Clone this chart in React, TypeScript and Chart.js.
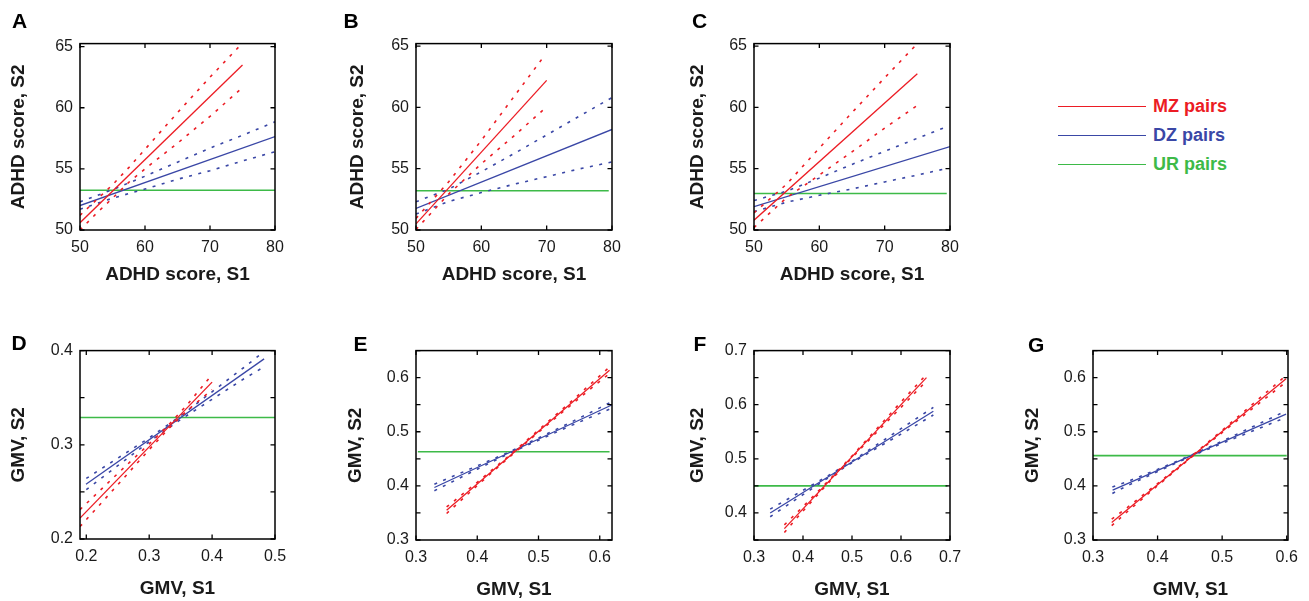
import React, { useEffect, useRef } from 'react';
import { Chart, registerables } from 'chart.js';
Chart.register(...registerables);

// ================= DATA =================
// Panel A (ADHD score)
const A_MZ_X = [50, 75];
const A_MZ_FIT = [50.6, 63.5];
const A_MZ_CI_X = [50, 52.5, 55, 57.5, 60, 65, 70, 75];
const A_MZ_UP = [51.2, 52.45, 53.7, 55.1, 56.6, 59.6, 62.5, 65.3];
const A_MZ_LO = [50.0, 51.35, 52.6, 53.9, 55.0, 57.1, 59.3, 61.65];
const A_DZ_X = [50, 80];
const A_DZ_FIT = [52.0, 57.65];
const A_DZ_CI_X = [50, 55, 60, 65, 70, 75, 80];
const A_DZ_UP = [52.3, 53.3, 54.4, 55.55, 56.7, 57.75, 58.85];
const A_DZ_LO = [51.7, 52.6, 53.35, 54.15, 54.85, 55.65, 56.4];
const A_UR_X = [50, 80];
const A_UR = [53.25, 53.25];

// Panel B
const B_MZ_X = [50, 70];
const B_MZ_FIT = [50.5, 62.2];
const B_MZ_CI_X = [50, 55, 60, 65, 69.5];
const B_MZ_UP = [50.95, 53.93, 57.3, 60.88, 64.1];
const B_MZ_LO = [50.05, 52.93, 55.4, 57.68, 59.8];
const B_DZ_X = [50, 80];
const B_DZ_FIT = [51.76, 58.2];
const B_DZ_CI_X = [50, 55, 60, 65, 70, 75, 80];
const B_DZ_UP = [52.3, 53.33, 54.75, 56.23, 57.75, 59.28, 60.8];
const B_DZ_LO = [51.3, 52.33, 53.05, 53.73, 54.35, 54.98, 55.55];
const B_UR_X = [50, 79.5];
const B_UR = [53.2, 53.2];

// Panel C
const C_MZ_X = [50, 75];
const C_MZ_FIT = [50.8, 62.74];
const C_MZ_CI_X = [50, 55, 60, 65, 70, 75];
const C_MZ_UP = [51.4, 53.74, 56.68, 59.57, 62.41, 65.2];
const C_MZ_LO = [50.2, 52.64, 54.48, 56.37, 58.31, 60.16];
const C_DZ_X = [50, 80];
const C_DZ_FIT = [51.9, 56.8];
const C_DZ_CI_X = [50, 55, 60, 65, 70, 75, 79.5];
const C_DZ_UP = [52.4, 53.17, 54.23, 55.35, 56.42, 57.48, 58.42];
const C_DZ_LO = [51.5, 52.27, 52.83, 53.35, 53.92, 54.48, 55.02];
const C_UR_X = [50, 79.5];
const C_UR = [52.98, 52.98];

// Panel D (GMV)
const D_MZ_X = [0.19, 0.4];
const D_MZ_FIT = [0.2222, 0.3665];
const D_MZ_CI_X = [0.19, 0.25, 0.3, 0.33, 0.36, 0.4];
const D_MZ_UP = [0.2312, 0.2695, 0.3009, 0.3205, 0.3422, 0.3745];
const D_MZ_LO = [0.2132, 0.2575, 0.2949, 0.3165, 0.3362, 0.3585];
const D_DZ_X = [0.1995, 0.4827];
const D_DZ_FIT = [0.2581, 0.3912];
const D_DZ_CI_X = [0.2, 0.25, 0.3, 0.35, 0.4, 0.45, 0.4775];
const D_DZ_UP = [0.2643, 0.2858, 0.3073, 0.3308, 0.3563, 0.3818, 0.3963];
const D_DZ_LO = [0.2523, 0.2778, 0.3033, 0.3268, 0.3483, 0.3698, 0.3807];
const D_UR_X = [0.19, 0.5];
const D_UR = [0.329, 0.329];

// Panel E
const E_MZ_X = [0.35, 0.616];
const E_MZ_FIT = [0.355, 0.6137];
const E_MZ_CI_X = [0.35, 0.4, 0.45, 0.5, 0.55, 0.6, 0.616];
const E_MZ_UP = [0.361, 0.4067, 0.4538, 0.503, 0.5526, 0.6033, 0.6197];
const E_MZ_LO = [0.349, 0.4007, 0.4508, 0.499, 0.5466, 0.5933, 0.6077];
const E_DZ_X = [0.33, 0.6225];
const E_DZ_FIT = [0.397, 0.551];
const E_DZ_CI_X = [0.33, 0.4, 0.45, 0.5, 0.55, 0.6, 0.62];
const E_DZ_UP = [0.403, 0.4369, 0.4617, 0.4885, 0.5159, 0.5442, 0.5557];
const E_DZ_LO = [0.391, 0.4309, 0.4587, 0.4845, 0.5099, 0.5342, 0.5437];
const E_UR_X = [0.303, 0.616];
const E_UR = [0.463, 0.463];

// Panel F
const F_MZ_X = [0.362, 0.652];
const F_MZ_FIT = [0.371, 0.65];
const F_MZ_CI_X = [0.362, 0.4, 0.45, 0.5, 0.55, 0.6, 0.652];
const F_MZ_UP = [0.378, 0.4116, 0.4577, 0.5053, 0.5549, 0.605, 0.656];
const F_MZ_LO = [0.364, 0.4036, 0.4537, 0.5023, 0.5489, 0.595, 0.644];
const F_DZ_X = [0.333, 0.666];
const F_DZ_FIT = [0.4, 0.588];
const F_DZ_CI_X = [0.333, 0.4, 0.45, 0.5, 0.55, 0.6, 0.666];
const F_DZ_UP = [0.407, 0.4418, 0.4681, 0.4958, 0.5255, 0.5557, 0.595];
const F_DZ_LO = [0.393, 0.4338, 0.4641, 0.4928, 0.5195, 0.5457, 0.581];
const F_UR_X = [0.3, 0.695];
const F_UR = [0.45, 0.45];

// Panel G
const G_MZ_X = [0.329, 0.599];
const G_MZ_FIT = [0.3325, 0.598];
const G_MZ_CI_X = [0.329, 0.35, 0.4, 0.45, 0.5, 0.55, 0.599];
const G_MZ_UP = [0.3385, 0.3571, 0.4043, 0.4525, 0.5026, 0.5538, 0.604];
const G_MZ_LO = [0.3265, 0.3491, 0.4003, 0.4505, 0.4986, 0.5458, 0.592];
const G_DZ_X = [0.3304, 0.599];
const G_DZ_FIT = [0.3922, 0.5325];
const G_DZ_CI_X = [0.33, 0.35, 0.4, 0.45, 0.5, 0.55, 0.599];
const G_DZ_UP = [0.398, 0.4064, 0.4305, 0.4556, 0.4827, 0.5108, 0.5385];
const G_DZ_LO = [0.386, 0.3984, 0.4265, 0.4536, 0.4787, 0.5028, 0.5265];
const G_UR_X = [0.3, 0.6];
const G_UR = [0.456, 0.456];

const LEGEND_LABELS = ['MZ pairs', 'DZ pairs', 'UR pairs'];
const PANEL_LETTERS = ['A', 'B', 'C', 'D', 'E', 'F', 'G'];
const TITLE_ADHD_X = 'ADHD score, S1';
const TITLE_ADHD_Y = 'ADHD score, S2';
const TITLE_GMV_X = 'GMV, S1';
const TITLE_GMV_Y = 'GMV, S2';

// ================= STYLE / LAYOUT =================
const RED = '#EC1C24';
const BLUE = '#3A47A6';
const GREEN = '#3DBA48';
const FONT = "'Liberation Sans', Arial, Helvetica, sans-serif";
const TEXT = '#1a1a1a';
const Y_AXIS_W = 75;
const X_AXIS_H = 62;
const PAD_T = 15;
const PAD_R = 20;
const TICK_LEN = 4.5;

type Panel = {
  box: { l: number; t: number; r: number; b: number };
  xr: [number, number]; xs: number;
  yr: [number, number]; ys: number;
  gmv: boolean;
  yGap: number; xOff: number;
  sets: any[];
};

const pts = (xs: number[], ys: number[]) => xs.map((x, i) => ({ x, y: ys[i] }));

function series(
  mzX: number[], mzFit: number[], mzCiX: number[], mzUp: number[], mzLo: number[],
  dzX: number[], dzFit: number[], dzCiX: number[], dzUp: number[], dzLo: number[],
  urX: number[], ur: number[]
) {
  const solid = (data: any, c: string) => ({ data, borderColor: c, borderWidth: 1.3, showLine: true, pointRadius: 0, fill: false });
  const dot = (data: any, c: string) => ({ data, borderColor: c, borderWidth: 1.6, borderDash: [3, 6.5], showLine: true, pointRadius: 0, fill: false });
  return [
    dot(pts(mzCiX, mzUp), RED), dot(pts(mzCiX, mzLo), RED), solid(pts(mzX, mzFit), RED),
    dot(pts(dzCiX, dzUp), BLUE), dot(pts(dzCiX, dzLo), BLUE), solid(pts(dzX, dzFit), BLUE),
    { ...solid(pts(urX, ur), GREEN), borderWidth: 1.6 },
  ];
}

const PANELS: Panel[] = [
  { box: { l: 80, t: 42, r: 275, b: 230 }, xr: [50, 80], xs: 10, yr: [50, 65.25], ys: 5, gmv: false, yGap: 61, xOff: 45,
    sets: series(A_MZ_X, A_MZ_FIT, A_MZ_CI_X, A_MZ_UP, A_MZ_LO, A_DZ_X, A_DZ_FIT, A_DZ_CI_X, A_DZ_UP, A_DZ_LO, A_UR_X, A_UR) },
  { box: { l: 416, t: 42, r: 612, b: 230 }, xr: [50, 80], xs: 10, yr: [50, 65.2], ys: 5, gmv: false, yGap: 58, xOff: 45,
    sets: series(B_MZ_X, B_MZ_FIT, B_MZ_CI_X, B_MZ_UP, B_MZ_LO, B_DZ_X, B_DZ_FIT, B_DZ_CI_X, B_DZ_UP, B_DZ_LO, B_UR_X, B_UR) },
  { box: { l: 754, t: 42, r: 950, b: 230 }, xr: [50, 80], xs: 10, yr: [50, 65.2], ys: 5, gmv: false, yGap: 56, xOff: 45,
    sets: series(C_MZ_X, C_MZ_FIT, C_MZ_CI_X, C_MZ_UP, C_MZ_LO, C_DZ_X, C_DZ_FIT, C_DZ_CI_X, C_DZ_UP, C_DZ_LO, C_UR_X, C_UR) },
  { box: { l: 80, t: 349, r: 275, b: 539 }, xr: [0.19, 0.5], xs: 0.1, yr: [0.2, 0.4], ys: 0.05, gmv: true, yGap: 61, xOff: 49.5,
    sets: series(D_MZ_X, D_MZ_FIT, D_MZ_CI_X, D_MZ_UP, D_MZ_LO, D_DZ_X, D_DZ_FIT, D_DZ_CI_X, D_DZ_UP, D_DZ_LO, D_UR_X, D_UR) },
  { box: { l: 416, t: 349, r: 612, b: 540 }, xr: [0.3, 0.62], xs: 0.1, yr: [0.3, 0.65], ys: 0.05, gmv: true, yGap: 60, xOff: 49.5,
    sets: series(E_MZ_X, E_MZ_FIT, E_MZ_CI_X, E_MZ_UP, E_MZ_LO, E_DZ_X, E_DZ_FIT, E_DZ_CI_X, E_DZ_UP, E_DZ_LO, E_UR_X, E_UR) },
  { box: { l: 754, t: 349, r: 950, b: 540 }, xr: [0.3, 0.7], xs: 0.1, yr: [0.35, 0.7], ys: 0.05, gmv: true, yGap: 56.5, xOff: 49.5,
    sets: series(F_MZ_X, F_MZ_FIT, F_MZ_CI_X, F_MZ_UP, F_MZ_LO, F_DZ_X, F_DZ_FIT, F_DZ_CI_X, F_DZ_UP, F_DZ_LO, F_UR_X, F_UR) },
  { box: { l: 1093, t: 349, r: 1288, b: 540 }, xr: [0.3, 0.602], xs: 0.1, yr: [0.3, 0.65], ys: 0.05, gmv: true, yGap: 60, xOff: 49.5,
    sets: series(G_MZ_X, G_MZ_FIT, G_MZ_CI_X, G_MZ_UP, G_MZ_LO, G_DZ_X, G_DZ_FIT, G_DZ_CI_X, G_DZ_UP, G_DZ_LO, G_UR_X, G_UR) },
];

const LETTER_POS = [
  { left: 12, top: 10 }, { left: 343.5, top: 10 }, { left: 692, top: 10 },
  { left: 11.5, top: 332 }, { left: 353.5, top: 333 }, { left: 693.5, top: 333 }, { left: 1028, top: 334 },
];
const LEGEND_COLORS = [RED, BLUE, GREEN];
const LEGEND_Y = [106, 135, 164];

const boxPlugin = {
  id: 'boxTicks',
  afterDatasetsDraw(chart: any) {
    const { ctx, chartArea, scales } = chart;
    const { left, top, right, bottom } = chartArea;
    const x = scales.x, y = scales.y;
    ctx.save();
    ctx.strokeStyle = '#000';
    ctx.lineWidth = 1.3;
    ctx.beginPath();
    for (const t of x.ticks) {
      const px = x.getPixelForValue(t.value);
      ctx.moveTo(px, bottom); ctx.lineTo(px, bottom - TICK_LEN);
      ctx.moveTo(px, top); ctx.lineTo(px, top + TICK_LEN);
    }
    for (const t of y.ticks) {
      const py = y.getPixelForValue(t.value);
      ctx.moveTo(left, py); ctx.lineTo(left + TICK_LEN, py);
      ctx.moveTo(right, py); ctx.lineTo(right - TICK_LEN, py);
    }
    ctx.stroke();
    ctx.lineWidth = 1.5;
    ctx.strokeRect(left, top, right - left, bottom - top);
    ctx.restore();
  },
};

function PanelChart({ p }: { p: Panel }) {
  const ref = useRef<HTMLCanvasElement>(null);
  const W = p.box.r - p.box.l + Y_AXIS_W + PAD_R;
  const H = p.box.b - p.box.t + PAD_T + X_AXIS_H;
  useEffect(() => {
    if (!ref.current) return;
    const lab = (v: number) => {
      if (!p.gmv) return String(Math.round(v));
      return Math.abs(Math.round(v * 10) - v * 10) < 1e-6 ? v.toFixed(1) : '';
    };
    const tickFont = { family: FONT, size: 16 };
    const titleFont = { family: FONT, size: 19, weight: 'bold' as const };
    const chart = new Chart(ref.current, {
      type: 'scatter',
      data: { datasets: p.sets },
      options: {
        animation: false,
        responsive: false,
        devicePixelRatio: 1,
        events: [],
        layout: { padding: { left: 0, top: PAD_T, right: PAD_R, bottom: 0 } },
        plugins: { legend: { display: false }, tooltip: { enabled: false }, title: { display: false } },
        elements: { point: { radius: 0 }, line: { tension: 0 } },
        scales: {
          x: {
            type: 'linear', min: p.xr[0], max: p.xr[1],
            afterFit: (s: any) => { s.height = X_AXIS_H; },
            grid: { display: false, drawTicks: false },
            border: { display: false },
            ticks: { stepSize: p.xs, includeBounds: false, autoSkip: false, maxRotation: 0, padding: 8, color: TEXT, font: tickFont, callback: (v: any) => lab(Number(v)) },
            title: { display: true, text: p.gmv ? TITLE_GMV_X : TITLE_ADHD_X, color: TEXT, font: titleFont,
              padding: { top: 0, bottom: X_AXIS_H - p.xOff - 11.4 } },
          },
          y: {
            type: 'linear', min: p.yr[0], max: p.yr[1],
            afterFit: (s: any) => { s.width = Y_AXIS_W; },
            grid: { display: false, drawTicks: false },
            border: { display: false },
            ticks: { stepSize: p.ys, includeBounds: false, autoSkip: false, padding: 7, color: TEXT, font: tickFont, callback: (v: any) => lab(Number(v)) },
            title: { display: true, text: p.gmv ? TITLE_GMV_Y : TITLE_ADHD_Y, color: TEXT, font: titleFont,
              padding: { top: Y_AXIS_W - p.yGap - 11.4, bottom: 0 } },
          },
        },
      },
      plugins: [boxPlugin],
    } as any);
    return () => chart.destroy();
  }, [p]);
  return (
    <canvas
      ref={ref}
      width={W}
      height={H}
      style={{ position: 'absolute', left: p.box.l - Y_AXIS_W, top: p.box.t - PAD_T, width: W, height: H }}
    />
  );
}

export default function App() {
  return (
    <div style={{ position: 'absolute', left: 0, top: 0, width: 1309, height: 601, overflow: 'hidden', background: '#fff' }}>
      {PANELS.map((p, i) => <PanelChart key={i} p={p} />)}
      {PANEL_LETTERS.map((L, i) => (
        <div key={L} style={{ position: 'absolute', left: LETTER_POS[i].left, top: LETTER_POS[i].top, font: `bold 21px ${FONT}`, lineHeight: '21px', color: '#000' }}>{L}</div>
      ))}
      {LEGEND_LABELS.map((lab, i) => (
        <div key={lab} style={{ position: 'absolute', left: 1058, top: LEGEND_Y[i] - 10, height: 20, display: 'flex', alignItems: 'center' }}>
          <div style={{ width: 88, height: 0, borderTop: `1.5px solid ${LEGEND_COLORS[i]}` }} />
          <span style={{ marginLeft: 7, font: `bold 18px ${FONT}`, lineHeight: '20px', color: LEGEND_COLORS[i] }}>{lab}</span>
        </div>
      ))}
    </div>
  );
}
